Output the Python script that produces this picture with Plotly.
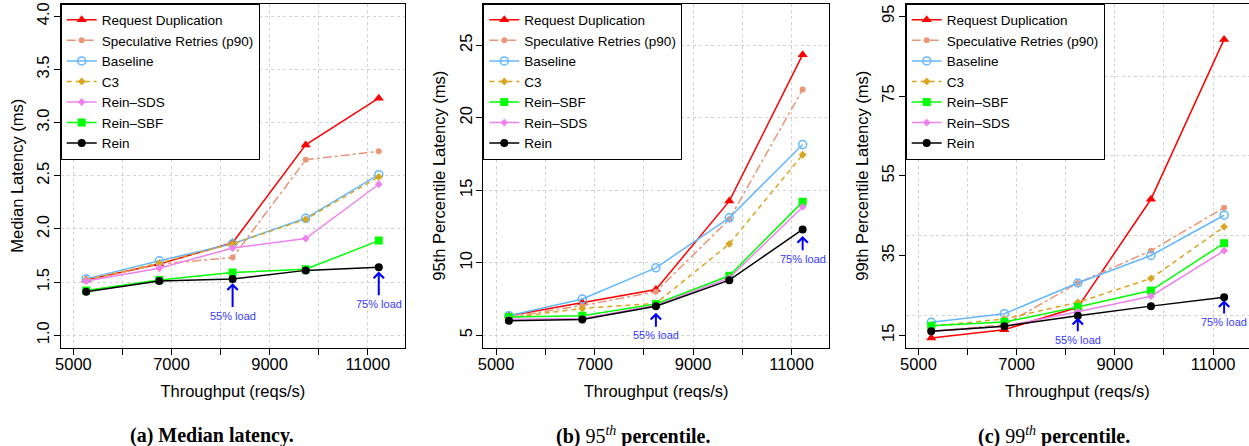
import plotly.graph_objects as go

# ---------------- data ----------------
throughput = [5260, 6750, 8245, 9735, 11225]

names = ["Request Duplication", "Speculative Retries (p90)", "Baseline", "C3",
         "Rein–SDS", "Rein–SBF", "Rein"]

# (a) median latency (ms)
med_reqdup = [1.52, 1.67, 1.87, 2.79, 3.23]
med_spec = [1.51, 1.67, 1.73, 2.65, 2.73]
med_base = [1.53, 1.70, 1.86, 2.10, 2.51]
med_c3 = [1.52, 1.68, 1.86, 2.09, 2.49]
med_sds = [1.51, 1.63, 1.82, 1.91, 2.42]
med_sbf = [1.42, 1.52, 1.59, 1.62, 1.89]
med_rein = [1.41, 1.51, 1.53, 1.61, 1.64]

# (b) 95th percentile latency (ms)
p95_reqdup = [6.35, 7.25, 8.15, 14.25, 24.35]
p95_spec = [6.25, 7.05, 8.0, 13.0, 21.95]
p95_base = [6.35, 7.5, 9.65, 13.1, 18.15]
p95_c3 = [6.2, 6.85, 7.2, 11.3, 17.45]
p95_sbf = [6.25, 6.35, 7.15, 9.1, 14.2]
p95_sds = [6.1, 6.15, 7.05, 8.95, 13.85]
p95_rein = [6.0, 6.08, 7.0, 8.8, 12.3]

# (c) 99th percentile latency (ms)
p99_reqdup = [14.3, 16.4, 22.0, 49.1, 89.2]
p99_spec = [16.0, 17.6, 28.1, 36.2, 47.0]
p99_base = [18.25, 20.4, 28.1, 35.0, 45.1]
p99_c3 = [17.25, 19.1, 23.25, 29.25, 42.2]
p99_sbf = [17.4, 18.3, 22.1, 26.2, 38.1]
p99_sds = [16.0, 17.25, 20.9, 24.8, 36.2]
p99_rein = [16.0, 17.25, 19.9, 22.3, 24.5]

x_ticks = [5000, 7000, 9000, 11000]
x_minor_ticks = [6000, 8000, 10000]
y_ticks_a = [1.0, 1.5, 2.0, 2.5, 3.0, 3.5, 4.0]
y_ticks_b = [5, 10, 15, 20, 25]
y_ticks_c = [15, 35, 55, 75, 95]
y_grid_c = [20, 40, 60, 80]

load_labels = ["55% load", "75% load"]
load_x = [8245, 11225]
# (label / arrow-tail y, arrow-head y) per panel
load_a = [(1.185, 1.49), (1.295, 1.60)]
load_b = [(5.0, 6.55), (10.28, 11.85)]
load_c = [(13.9, 19.4), (18.35, 23.8)]

# ---------------- styles ----------------
styles = {
    "Request Duplication": dict(color="#FF0000", dash="solid", symbol="triangle-up", size=9),
    "Speculative Retries (p90)": dict(color="#E9967A", dash="dashdot", symbol="circle", size=6),
    "Baseline": dict(color="#63B8FF", dash="solid", symbol="circle-open", size=8),
    "C3": dict(color="#DAA520", dash="5px,4px", symbol="diamond", size=6),
    "Rein–SDS": dict(color="#EE82EE", dash="solid", symbol="diamond", size=6),
    "Rein–SBF": dict(color="#00FF00", dash="solid", symbol="square", size=8),
    "Rein": dict(color="#000000", dash="solid", symbol="circle", size=8),
}

W, H = 1249, 446
FONT = "Liberation Sans, Arial, Helvetica, sans-serif"
SERIF = "Liberation Serif, Times New Roman, serif"

fig = go.Figure()

panels = [
    dict(sfx="", leg="legend",
         series=[med_reqdup, med_spec, med_base, med_c3, med_sds, med_sbf, med_rein],
         order=names),
    dict(sfx="2", leg="legend2",
         series=[p95_reqdup, p95_spec, p95_base, p95_c3, p95_sbf, p95_sds, p95_rein],
         order=["Request Duplication", "Speculative Retries (p90)", "Baseline", "C3",
                "Rein–SBF", "Rein–SDS", "Rein"]),
    dict(sfx="3", leg="legend3",
         series=[p99_reqdup, p99_spec, p99_base, p99_c3, p99_sbf, p99_sds, p99_rein],
         order=["Request Duplication", "Speculative Retries (p90)", "Baseline", "C3",
                "Rein–SBF", "Rein–SDS", "Rein"]),
]

for p in panels:
    for rank, (nm, vals) in enumerate(zip(p["order"], p["series"])):
        st = styles[nm]
        fig.add_trace(go.Scatter(
            x=throughput, y=vals, name=nm, mode="lines+markers",
            xaxis="x" + p["sfx"], yaxis="y" + p["sfx"], legend=p["leg"],
            legendrank=rank + 1,
            line=dict(color=st["color"], width=1.5, dash=st["dash"]),
            marker=dict(symbol=st["symbol"], size=st["size"], color=st["color"],
                        line=dict(width=1.5 if st["symbol"].endswith("open") else 0,
                                  color=st["color"])),
        ))

# ---------------- layout ----------------
top_px, bot_px = 3.5, 348.0
ydom = [1 - bot_px / H, 1 - top_px / H]
xdoms = [[60.7 / W, 405.0 / W], [483.3 / W, 829.0 / W], [905.7 / W, 1.0]]
xranges = [[4740, 11760], [4740, 11760], [4740, 11732]]
yranges = [[0.88, 4.12], [4.12, 27.88], [11.8, 98.2]]
ytitles = ["Median Latency (ms)", "95th Percentile Latency (ms)", "99th Percentile Latency (ms)"]
GRID = dict(gridcolor="#D3D3D3", griddash="dot", gridwidth=1)

def xaxis(i):
    return dict(domain=xdoms[i], range=xranges[i], anchor="y" + ("" if i == 0 else str(i + 1)),
                tickmode="array", tickvals=x_ticks, ticktext=[str(t) for t in x_ticks],
                ticks="outside", ticklen=6, tickwidth=1, tickcolor="#000",
                ticklabelstandoff=-5,
                minor=dict(tickvals=x_minor_ticks, ticks="outside", ticklen=6, tickwidth=1,
                           tickcolor="#000", showgrid=True, **GRID),
                showline=True, linecolor="#000", linewidth=1, mirror=True,
                showgrid=True, zeroline=False, **GRID,
                tickfont=dict(size=16.5, color="#000", family=FONT),
                title=dict(text="Throughput (reqs/s)", font=dict(size=16.5, color="#000", family=FONT),
                           standoff=13),
                automargin=False)

def yaxis(i, ticks):
    return dict(domain=ydom, range=yranges[i], anchor="x" + ("" if i == 0 else str(i + 1)),
                tickmode="array", tickvals=ticks,
                ticktext=[f"{t:.1f}" if i == 0 else str(t) for t in ticks],
                tickangle=-90, ticklabelstandoff=-2,
                ticks="outside", ticklen=6, tickwidth=1, tickcolor="#000",
                showline=True, linecolor="#000", linewidth=1, mirror=True,
                showgrid=True, zeroline=False, **GRID,
                tickfont=dict(size=16.5, color="#000", family=FONT),
                title=dict(text=ytitles[i], font=dict(size=16.5, color="#000", family=FONT),
                           standoff=6),
                automargin=False)

ya = yaxis(0, y_ticks_a)
yb = yaxis(1, y_ticks_b)
yc = yaxis(2, y_ticks_c)
yc["showgrid"] = False
yc["minor"] = dict(tickvals=y_grid_c, showgrid=True, ticks="", **GRID)

def legend(i):
    return dict(x=xdoms[i][0], y=ydom[1], xanchor="left", yanchor="top",
                bgcolor="#FFFFFF", bordercolor="#000", borderwidth=1,
                font=dict(size=13.5, color="#000", family=FONT),
                tracegroupgap=0, itemwidth=30)

annotations = []
for i, loads in enumerate([load_a, load_b, load_c]):
    sfx = "" if i == 0 else str(i + 1)
    for lx, lab, (ty, head) in zip(load_x, load_labels, loads):
        annotations.append(dict(x=lx, y=head, ax=lx, ay=ty, xref="x" + sfx, yref="y" + sfx,
                                axref="x" + sfx, ayref="y" + sfx, showarrow=True,
                                arrowhead=4, arrowsize=1, arrowwidth=2, arrowcolor="#0000FF",
                                startstandoff=1, text=lab,
                                font=dict(size=11, color="#3A3AFF", family=FONT)))

captions = ["<b>(a) Median latency.</b>",
            "<b>(b) </b>95<sup><i>th</i></sup><b> percentile.</b>",
            "<b>(c) </b>99<sup><i>th</i></sup><b> percentile.</b>"]
cap_x = [212, 633, 1054]
for cx, cap in zip(cap_x, captions):
    annotations.append(dict(x=cx / W, y=1 - 435 / H, xref="paper", yref="paper",
                            xanchor="center", yanchor="middle", showarrow=False,
                            text=cap, font=dict(size=20, color="#000", family=SERIF)))

fig.update_layout(
    width=W, height=H, margin=dict(l=0, r=0, t=0, b=0),
    paper_bgcolor="#FFFFFF", plot_bgcolor="#FFFFFF",
    font=dict(family=FONT, color="#000"),
    xaxis=xaxis(0), xaxis2=xaxis(1), xaxis3=xaxis(2),
    yaxis=ya, yaxis2=yb, yaxis3=yc,
    legend=legend(0), legend2=legend(1), legend3=legend(2),
    annotations=annotations, showlegend=True,
)

fig.write_html("out.html", config={"displayModeBar": False},
               post_script="document.body.style.margin='0px';document.body.style.overflow='hidden';")
